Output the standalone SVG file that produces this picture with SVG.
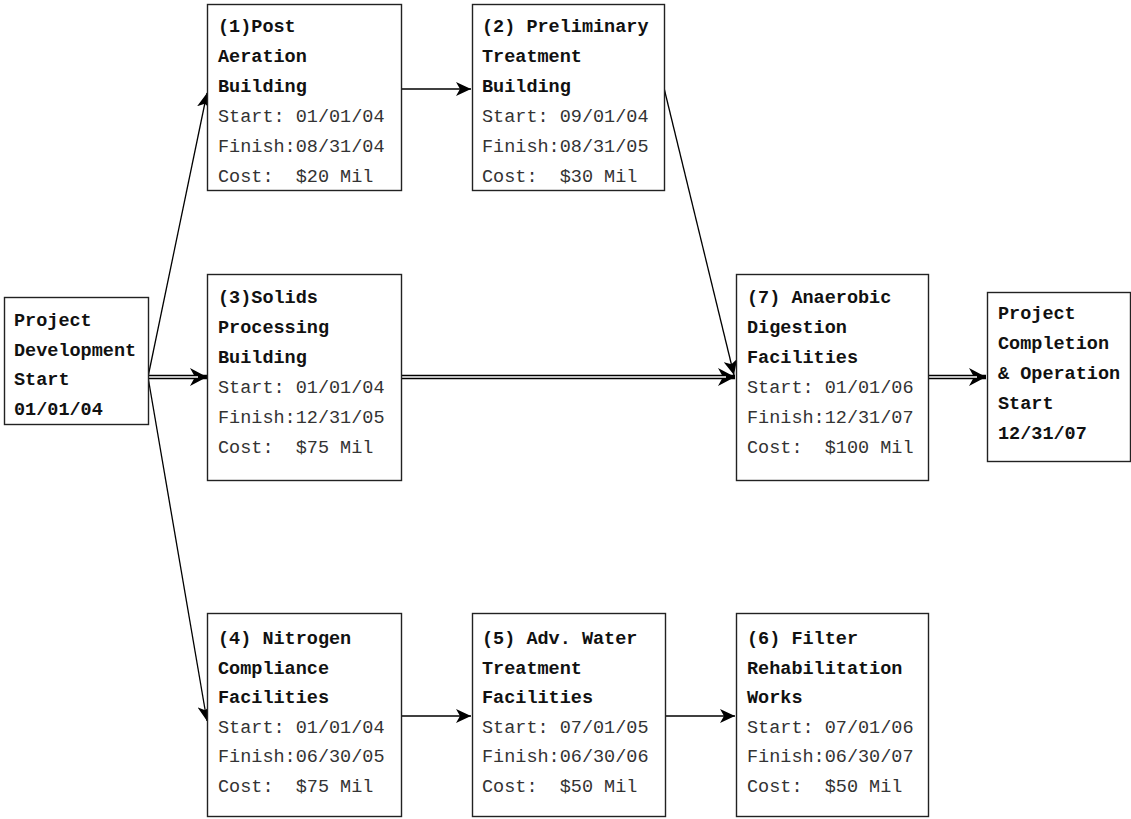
<svg xmlns="http://www.w3.org/2000/svg" width="1131" height="819" viewBox="0 0 1131 819">
<style>
.box{fill:#fff;stroke:#222;stroke-width:1.4}
text{font-family:"Liberation Mono","Courier New",monospace;font-size:18.5px;fill:#111}
.b{font-weight:bold}
.r{fill:#333}
.ln{fill:none;stroke:#000;stroke-width:1.3}
.dbl{fill:none;stroke:#000;stroke-width:4.6}
.dbi{fill:none;stroke:#fff;stroke-width:1.6}
</style>
<defs>
<marker id="a1" markerUnits="userSpaceOnUse" markerWidth="16" markerHeight="14" refX="15" refY="7" orient="auto">
<path d="M0,0 L15,7 L0,14 L4,7 Z" fill="#000"/>
</marker>
<marker id="a2" markerUnits="userSpaceOnUse" markerWidth="18" markerHeight="18" refX="17" refY="9" orient="auto">
<path d="M0,0 L17,9 L0,18 L5,9 Z" fill="#000"/>
</marker>
</defs>
<rect width="1131" height="819" fill="#fff"/>
<g id="connectors">
<line class="ln" x1="148" y1="377" x2="207" y2="93" marker-end="url(#a1)"/>
<line class="ln" x1="148" y1="377" x2="207" y2="721" marker-end="url(#a1)"/>
<line class="ln" x1="401" y1="89" x2="471" y2="89" marker-end="url(#a1)"/>
<line class="ln" x1="664" y1="88" x2="734" y2="375" marker-end="url(#a1)"/>
<line class="ln" x1="401" y1="716" x2="471" y2="716" marker-end="url(#a1)"/>
<line class="ln" x1="665" y1="716" x2="735" y2="716" marker-end="url(#a1)"/>
<line class="dbl" x1="148" y1="377" x2="207" y2="377" marker-end="url(#a2)"/>
<line class="dbi" x1="148" y1="377" x2="198" y2="377"/>
<line class="dbl" x1="401" y1="377" x2="735" y2="377" marker-end="url(#a2)"/>
<line class="dbi" x1="401" y1="377" x2="726" y2="377"/>
<line class="dbl" x1="928" y1="377" x2="986" y2="377" marker-end="url(#a2)"/>
<line class="dbi" x1="928" y1="377" x2="977" y2="377"/>
</g>
<g id="n0">
<rect class="box" x="4.5" y="297.5" width="144" height="127"/>
<text class="b" x="14" y="326">Project</text>
<text class="b" x="14" y="355.5">Development</text>
<text class="b" x="14" y="385">Start</text>
<text class="b" x="14" y="414.5">01/01/04</text>
</g>
<g id="n1">
<rect class="box" x="207.5" y="4.5" width="194" height="186"/>
<text class="b" x="218" y="32">(1)Post</text>
<text class="b" x="218" y="62">Aeration</text>
<text class="b" x="218" y="92">Building</text>
<text class="r" x="218" y="122" xml:space="preserve">Start: 01/01/04</text>
<text class="r" x="218" y="152">Finish:08/31/04</text>
<text class="r" x="218" y="182" xml:space="preserve">Cost:  $20 Mil</text>
</g>
<g id="n2">
<rect class="box" x="472.5" y="4.5" width="192" height="186"/>
<text class="b" x="482" y="32" xml:space="preserve">(2) Preliminary</text>
<text class="b" x="482" y="62">Treatment</text>
<text class="b" x="482" y="92">Building</text>
<text class="r" x="482" y="122" xml:space="preserve">Start: 09/01/04</text>
<text class="r" x="482" y="152">Finish:08/31/05</text>
<text class="r" x="482" y="182" xml:space="preserve">Cost:  $30 Mil</text>
</g>
<g id="n3">
<rect class="box" x="207.5" y="274.5" width="194" height="206"/>
<text class="b" x="218" y="303">(3)Solids</text>
<text class="b" x="218" y="333">Processing</text>
<text class="b" x="218" y="363">Building</text>
<text class="r" x="218" y="393" xml:space="preserve">Start: 01/01/04</text>
<text class="r" x="218" y="423">Finish:12/31/05</text>
<text class="r" x="218" y="453" xml:space="preserve">Cost:  $75 Mil</text>
</g>
<g id="n7">
<rect class="box" x="736.5" y="274.5" width="192" height="206"/>
<text class="b" x="747" y="303" xml:space="preserve">(7) Anaerobic</text>
<text class="b" x="747" y="333">Digestion</text>
<text class="b" x="747" y="363">Facilities</text>
<text class="r" x="747" y="393" xml:space="preserve">Start: 01/01/06</text>
<text class="r" x="747" y="423">Finish:12/31/07</text>
<text class="r" x="747" y="453" xml:space="preserve">Cost:  $100 Mil</text>
</g>
<g id="n8">
<rect class="box" x="987.5" y="292.5" width="143" height="169"/>
<text class="b" x="998" y="319">Project</text>
<text class="b" x="998" y="349">Completion</text>
<text class="b" x="998" y="379" xml:space="preserve">&amp; Operation</text>
<text class="b" x="998" y="409">Start</text>
<text class="b" x="998" y="439">12/31/07</text>
</g>
<g id="n4">
<rect class="box" x="207.5" y="613.5" width="194" height="203"/>
<text class="b" x="218" y="644" xml:space="preserve">(4) Nitrogen</text>
<text class="b" x="218" y="673.5">Compliance</text>
<text class="b" x="218" y="703">Facilities</text>
<text class="r" x="218" y="732.5" xml:space="preserve">Start: 01/01/04</text>
<text class="r" x="218" y="762">Finish:06/30/05</text>
<text class="r" x="218" y="791.5" xml:space="preserve">Cost:  $75 Mil</text>
</g>
<g id="n5">
<rect class="box" x="472.5" y="613.5" width="193" height="203"/>
<text class="b" x="482" y="644" xml:space="preserve">(5) Adv. Water</text>
<text class="b" x="482" y="673.5">Treatment</text>
<text class="b" x="482" y="703">Facilities</text>
<text class="r" x="482" y="732.5" xml:space="preserve">Start: 07/01/05</text>
<text class="r" x="482" y="762">Finish:06/30/06</text>
<text class="r" x="482" y="791.5" xml:space="preserve">Cost:  $50 Mil</text>
</g>
<g id="n6">
<rect class="box" x="736.5" y="613.5" width="192" height="203"/>
<text class="b" x="747" y="644" xml:space="preserve">(6) Filter</text>
<text class="b" x="747" y="673.5">Rehabilitation</text>
<text class="b" x="747" y="703">Works</text>
<text class="r" x="747" y="732.5" xml:space="preserve">Start: 07/01/06</text>
<text class="r" x="747" y="762">Finish:06/30/07</text>
<text class="r" x="747" y="791.5" xml:space="preserve">Cost:  $50 Mil</text>
</g>
</svg>
